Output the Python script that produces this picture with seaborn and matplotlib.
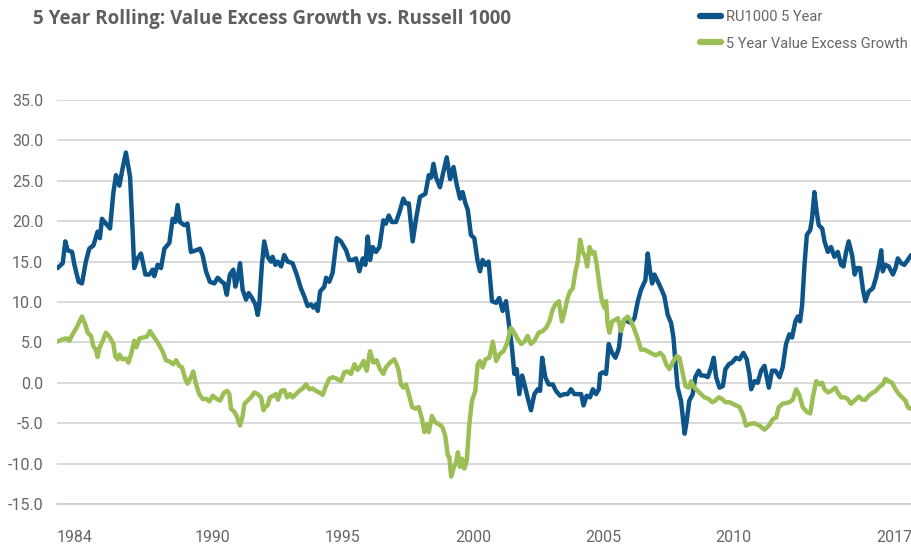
import matplotlib
matplotlib.use("Agg")
import matplotlib.pyplot as plt
import numpy as np
import pandas as pd
import seaborn as sns

# values (decimal year, rolling 5y return %)
ru_years = [1984.02, 1984.22, 1984.32, 1984.41, 1984.58, 1984.67, 1984.83, 1984.96, 1985.11, 1985.24,
            1985.40, 1985.56, 1985.65, 1985.73, 1985.88, 1986.04, 1986.17, 1986.27, 1986.40, 1986.52,
            1986.65, 1986.81, 1986.91, 1986.97, 1987.10, 1987.23, 1987.40, 1987.55, 1987.68, 1987.74,
            1987.87, 1988.00, 1988.13, 1988.32, 1988.45, 1988.55, 1988.64, 1988.73, 1988.90, 1989.02,
            1989.15, 1989.35, 1989.50, 1989.60, 1989.73, 1989.88, 1990.05, 1990.18, 1990.34, 1990.43,
            1990.53, 1990.65, 1990.78, 1990.86, 1990.95, 1991.04, 1991.14, 1991.27, 1991.37, 1991.50,
            1991.63, 1991.72, 1991.78, 1991.88, 1991.97, 1992.10, 1992.23, 1992.29, 1992.40, 1992.49,
            1992.62, 1992.74, 1992.87, 1993.06, 1993.22, 1993.38, 1993.51, 1993.64, 1993.77, 1993.86,
            1993.96, 1994.03, 1994.12, 1994.28, 1994.35, 1994.47, 1994.60, 1994.76, 1994.92, 1995.12,
            1995.24, 1995.37, 1995.50, 1995.63, 1995.76, 1995.86, 1995.95, 1996.04, 1996.14, 1996.27,
            1996.40, 1996.55, 1996.65, 1996.76, 1996.88, 1997.04, 1997.17, 1997.32, 1997.42, 1997.53,
            1997.68, 1997.81, 1997.96, 1998.17, 1998.30, 1998.39, 1998.48, 1998.58, 1998.73, 1998.86,
            1998.99, 1999.12, 1999.25, 1999.37, 1999.50, 1999.60, 1999.71, 1999.80, 1999.92, 2000.05,
            2000.18, 2000.27, 2000.37, 2000.48, 2000.60, 2000.73, 2000.89, 2001.01, 2001.14, 2001.27,
            2001.40, 2001.50, 2001.59, 2001.68, 2001.78, 2001.89, 2001.98, 2002.10, 2002.23, 2002.36,
            2002.49, 2002.58, 2002.66, 2002.78, 2002.91, 2003.07, 2003.19, 2003.35, 2003.51, 2003.64,
            2003.77, 2003.90, 2004.03, 2004.16, 2004.25, 2004.37, 2004.50, 2004.61, 2004.73, 2004.84,
            2004.89, 2004.99, 2005.12, 2005.22, 2005.35, 2005.48, 2005.61, 2005.70, 2005.82, 2005.95,
            2006.08, 2006.21, 2006.34, 2006.46, 2006.63, 2006.72, 2006.81, 2006.89, 2006.98, 2007.11,
            2007.23, 2007.36, 2007.49, 2007.62, 2007.71, 2007.79, 2007.87, 2008.00, 2008.09, 2008.14,
            2008.22, 2008.32, 2008.45, 2008.55, 2008.68, 2008.77, 2008.90, 2009.03, 2009.16, 2009.26,
            2009.35, 2009.48, 2009.61, 2009.71, 2009.84, 2009.96, 2010.12, 2010.25, 2010.40, 2010.53,
            2010.63, 2010.70, 2010.83, 2010.95, 2011.08, 2011.21, 2011.30, 2011.38, 2011.50, 2011.63,
            2011.79, 2011.91, 2012.04, 2012.17, 2012.27, 2012.40, 2012.49, 2012.58, 2012.66, 2012.75,
            2012.84, 2012.97, 2013.04, 2013.13, 2013.22, 2013.30, 2013.43, 2013.52, 2013.65, 2013.77,
            2013.90, 2014.03, 2014.16, 2014.25, 2014.35, 2014.45, 2014.58, 2014.68, 2014.76, 2014.89,
            2014.99, 2015.09, 2015.22, 2015.38, 2015.50, 2015.61, 2015.70, 2015.76, 2015.86, 2015.99,
            2016.15, 2016.25, 2016.34, 2016.47, 2016.59, 2016.72, 2016.85, 2016.92]
ru_values = [14.2, 14.8, 17.5, 16.4, 16.2, 14.6, 12.5, 12.3, 15.0, 16.6,
             17.0, 18.7, 17.9, 20.3, 19.7, 19.1, 23.6, 25.7, 24.4, 26.5,
             28.5, 25.5, 18.7, 14.2, 15.4, 16.0, 13.4, 13.4, 14.0, 13.2,
             14.6, 14.2, 16.6, 17.3, 20.3, 19.9, 22.0, 19.9, 19.5, 19.7,
             16.2, 16.4, 16.6, 15.8, 13.8, 12.5, 12.3, 13.0, 12.5, 12.3,
             10.9, 13.4, 14.0, 11.9, 13.0, 14.8, 11.5, 10.3, 11.1, 10.5,
             9.7, 8.4, 9.7, 14.6, 17.5, 15.6, 15.0, 15.6, 14.6, 15.0,
             14.4, 15.8, 15.0, 14.8, 13.4, 11.7, 10.7, 9.5, 9.7, 9.3,
             9.7, 8.9, 11.3, 11.9, 13.0, 12.5, 13.6, 17.9, 17.5, 16.4,
             15.2, 15.2, 15.4, 13.8, 15.4, 14.6, 18.1, 15.2, 16.8, 16.2,
             16.8, 20.1, 19.7, 20.7, 19.9, 19.9, 21.1, 22.8, 22.2, 22.2,
             17.5, 20.3, 23.0, 23.4, 25.7, 25.4, 27.1, 25.4, 24.2, 26.1,
             27.9, 25.2, 26.7, 24.6, 22.8, 23.6, 22.2, 21.4, 18.3, 17.9,
             15.0, 13.8, 15.2, 14.6, 15.0, 10.1, 9.9, 10.5, 8.9, 10.1,
             6.8, 4.3, 1.1, 1.7, -1.4, 0.9, -0.2, -1.8, -3.4, -1.4,
             -0.8, -1.0, 3.1, 0.7, -0.2, -0.2, -1.0, -1.6, -1.4, -1.4,
             -0.8, -1.4, -1.4, -1.4, -2.8, -1.6, -1.8, -0.8, -1.4, -0.8,
             1.1, 1.3, 1.1, 4.8, 3.7, 3.1, 4.3, 6.8, 7.8, 7.6,
             7.4, 8.0, 10.1, 11.5, 12.7, 16.0, 13.8, 12.3, 13.4, 12.5,
             11.7, 10.7, 8.4, 7.4, 5.6, 2.3, -0.6, -2.2, -4.9, -6.3,
             -4.7, -2.2, -1.4, 0.7, 1.5, 0.9, 0.9, 0.7, 1.9, 3.1,
             0.7, -0.6, -0.4, 1.7, 2.3, 2.5, 3.1, 2.9, 3.7, 2.9,
             1.1, -0.8, 0.2, 0.0, 1.5, 2.1, 0.7, -0.6, 1.5, 1.5,
             0.7, 1.9, 4.8, 6.0, 5.6, 7.6, 8.2, 7.6, 9.7, 14.6,
             18.3, 18.9, 20.3, 23.6, 21.1, 19.5, 19.1, 17.5, 16.2, 16.8,
             15.6, 16.2, 14.6, 14.4, 16.2, 17.5, 15.8, 13.4, 14.2, 14.2,
             11.7, 10.1, 11.3, 11.7, 13.0, 14.6, 16.4, 13.8, 14.6, 14.4,
             13.4, 14.2, 15.4, 14.8, 14.6, 15.2, 15.8, 15.8]

vg_years = [1984.02, 1984.22, 1984.37, 1984.47, 1984.60, 1984.75, 1984.96, 1985.09, 1985.18, 1985.31,
            1985.40, 1985.50, 1985.56, 1985.63, 1985.76, 1985.88, 1986.04, 1986.17, 1986.24, 1986.33,
            1986.40, 1986.52, 1986.65, 1986.75, 1986.88, 1986.97, 1987.06, 1987.17, 1987.32, 1987.45,
            1987.58, 1987.70, 1987.87, 1988.06, 1988.19, 1988.35, 1988.47, 1988.58, 1988.70, 1988.81,
            1988.93, 1989.02, 1989.15, 1989.24, 1989.35, 1989.47, 1989.60, 1989.75, 1989.86, 1989.99,
            1990.14, 1990.27, 1990.43, 1990.55, 1990.63, 1990.69, 1990.82, 1990.91, 1991.04, 1991.14,
            1991.21, 1991.33, 1991.46, 1991.59, 1991.72, 1991.85, 1991.94, 1992.01, 1992.10, 1992.19,
            1992.32, 1992.42, 1992.50, 1992.62, 1992.74, 1992.85, 1992.96, 1993.06, 1993.19, 1993.32,
            1993.45, 1993.58, 1993.71, 1993.83, 1993.96, 1994.09, 1994.22, 1994.32, 1994.47, 1994.60,
            1994.76, 1994.92, 1995.05, 1995.18, 1995.31, 1995.44, 1995.56, 1995.69, 1995.79, 1995.91,
            1996.04, 1996.17, 1996.29, 1996.42, 1996.55, 1996.65, 1996.81, 1996.97, 1997.06, 1997.14,
            1997.23, 1997.32, 1997.42, 1997.53, 1997.66, 1997.78, 1997.91, 1998.04, 1998.13, 1998.22,
            1998.30, 1998.42, 1998.55, 1998.68, 1998.83, 1998.94, 1999.03, 1999.09, 1999.16, 1999.25,
            1999.35, 1999.42, 1999.50, 1999.58, 1999.67, 1999.76, 1999.86, 1999.96, 2000.09, 2000.18,
            2000.27, 2000.37, 2000.48, 2000.63, 2000.76, 2000.89, 2001.04, 2001.17, 2001.30, 2001.46,
            2001.59, 2001.72, 2001.85, 2001.98, 2002.10, 2002.23, 2002.36, 2002.53, 2002.68, 2002.81,
            2002.94, 2003.07, 2003.17, 2003.30, 2003.42, 2003.51, 2003.64, 2003.73, 2003.84, 2003.94,
            2004.03, 2004.12, 2004.22, 2004.32, 2004.39, 2004.48, 2004.58, 2004.67, 2004.76, 2004.86,
            2004.96, 2005.05, 2005.12, 2005.18, 2005.25, 2005.35, 2005.48, 2005.57, 2005.70, 2005.82,
            2005.95, 2006.08, 2006.21, 2006.34, 2006.46, 2006.59, 2006.72, 2006.89, 2007.04, 2007.19,
            2007.32, 2007.43, 2007.55, 2007.71, 2007.84, 2007.94, 2008.07, 2008.17, 2008.30, 2008.39,
            2008.52, 2008.64, 2008.77, 2008.90, 2009.07, 2009.20, 2009.32, 2009.45, 2009.58, 2009.71,
            2009.86, 2009.99, 2010.12, 2010.25, 2010.38, 2010.50, 2010.63, 2010.83, 2011.02, 2011.21,
            2011.38, 2011.53, 2011.66, 2011.76, 2011.91, 2012.04, 2012.17, 2012.30, 2012.43, 2012.56,
            2012.68, 2012.84, 2012.97, 2013.07, 2013.20, 2013.33, 2013.43, 2013.52, 2013.65, 2013.77,
            2013.94, 2014.03, 2014.16, 2014.29, 2014.41, 2014.54, 2014.67, 2014.84, 2014.97, 2015.09,
            2015.22, 2015.38, 2015.50, 2015.63, 2015.76, 2015.86, 2015.99, 2016.12, 2016.25, 2016.38,
            2016.50, 2016.63, 2016.72, 2016.81, 2016.92]
vg_values = [5.1, 5.4, 5.5, 5.2, 6.0, 6.8, 8.2, 7.2, 6.2, 5.8,
             4.5, 4.1, 3.2, 4.3, 5.2, 6.2, 5.6, 4.8, 3.3, 2.9,
             3.5, 2.9, 3.0, 2.5, 3.9, 5.2, 4.4, 5.5, 5.6, 5.7,
             6.4, 5.8, 5.0, 3.9, 2.8, 2.6, 2.3, 2.8, 2.1, 1.9,
             0.5, -0.1, 0.7, 1.4, -0.2, -1.4, -2.0, -2.0, -2.3, -1.6,
             -2.0, -2.2, -1.2, -1.0, -1.4, -3.2, -3.6, -4.1, -5.3, -4.1,
             -2.6, -2.2, -1.8, -1.2, -1.4, -1.8, -3.4, -3.0, -2.8, -1.8,
             -1.6, -1.4, -2.1, -1.0, -0.9, -1.8, -1.4, -1.8, -1.4, -1.0,
             -0.7, -0.2, -0.8, -0.7, -1.0, -1.2, -1.5, -0.6, 0.5, 0.7,
             0.5, 0.2, 1.3, 1.4, 1.1, 2.3, 1.6, 2.1, 2.7, 1.5,
             3.9, 2.5, 2.8, 1.7, 1.1, 1.9, 2.5, 2.9, 2.3, 1.5,
             -0.2, -0.6, -0.2, -1.4, -3.0, -3.2, -3.0, -4.5, -6.1, -5.1,
             -6.1, -4.1, -4.9, -5.1, -5.5, -6.7, -9.0, -9.2, -11.6, -10.6,
             -9.8, -8.6, -10.4, -9.4, -10.6, -9.6, -5.1, -2.2, -1.0, 2.3,
             2.7, 1.9, 2.9, 3.1, 5.1, 2.7, 3.6, 3.9, 4.8, 6.8,
             6.2, 5.4, 4.8, 5.1, 5.8, 4.8, 5.2, 6.2, 6.4, 6.8,
             7.6, 9.1, 9.7, 10.1, 7.6, 8.6, 10.5, 11.3, 11.7, 13.8,
             15.0, 17.7, 16.2, 15.6, 14.4, 16.8, 16.0, 16.2, 14.6, 12.1,
             10.1, 9.3, 10.1, 7.2, 6.2, 7.6, 7.8, 8.0, 6.4, 7.8,
             8.2, 7.6, 6.6, 5.4, 4.1, 4.1, 3.9, 3.6, 3.4, 3.7,
             3.3, 2.3, 1.7, 2.7, 3.3, 3.1, 1.1, -0.4, -0.6, 0.2,
             -0.6, -1.0, -1.4, -1.8, -2.0, -2.4, -2.2, -1.8, -2.0, -2.4,
             -2.4, -2.6, -2.8, -3.0, -3.9, -5.3, -5.1, -5.0, -5.3, -5.8,
             -5.3, -4.5, -4.3, -3.0, -2.6, -2.5, -2.4, -2.1, -0.8, -1.6,
             -3.0, -3.6, -3.8, -1.8, 0.2, -0.2, 0.0, -0.8, -1.2, -1.0,
             -0.6, -1.2, -1.8, -1.8, -2.0, -2.6, -2.2, -1.7, -2.1, -2.1,
             -1.6, -1.2, -1.0, -0.5, -0.2, 0.5, 0.2, 0.0, -0.8, -1.4,
             -1.8, -2.2, -3.0, -3.2, -3.0]

series_names = ["RU1000 5 Year", "5 Year Value Excess Growth"]
y_ticks = [-15, -10, -5, 0, 5, 10, 15, 20, 25, 30, 35]
x_tick_years = [1984, 1990, 1995, 2000, 2005, 2010]
x_end_label = "2017"

blue = "#0d5589"
green = "#9bbf55"
grey_text = "#666666"

sns.set_style("white")
plt.rcParams["font.family"] = ["Roboto", "DejaVu Sans"]

ru = pd.DataFrame({"year": ru_years, "value": ru_values, "series": series_names[0]})
vg = pd.DataFrame({"year": vg_years, "value": vg_values, "series": series_names[1]})
df = pd.concat([ru, vg], ignore_index=True)

fig = plt.figure(figsize=(9.12, 5.48), dpi=100)
ax = fig.add_axes([57 / 912, 44 / 548, 855 / 912, 404 / 548])

sns.lineplot(data=df, x="year", y="value", hue="series", hue_order=series_names,
             palette=[blue, green], linewidth=3.2, ax=ax, legend=False)

x_start = 1984.0
x_end = 1984.0 + 855 / 26
ax.set_xlim(x_start, x_end)
ax.set_ylim(-15, 35)

ax.set_yticks(y_ticks)
ax.set_yticklabels([f"{v:.1f}" for v in y_ticks])
ax.yaxis.grid(True, color="#cfcfcf", linewidth=1.1)
ax.set_axisbelow(True)

ticks = x_tick_years + [x_end]
ax.set_xticks(ticks)
ax.set_xticklabels([str(y) for y in x_tick_years] + [x_end_label])
labels = ax.get_xticklabels()
labels[0].set_ha("left")
labels[-1].set_ha("right")

ax.tick_params(axis="y", length=0, pad=10, labelsize=11.5, labelcolor=grey_text)
ax.tick_params(axis="x", length=6, width=1, color="#c8c8c8", pad=13, labelsize=11.5, labelcolor=grey_text)

for s in ["top", "right", "left"]:
    ax.spines[s].set_visible(False)
ax.spines["bottom"].set_color("#c8c8c8")
ax.spines["bottom"].set_linewidth(1.1)

ax.set_xlabel("")
ax.set_ylabel("")

fig.text(33 / 912, 1 - 19 / 548, "5 Year Rolling: Value Excess Growth vs. Russell 1000",
         fontsize=13.5, fontweight="bold", color="#5f5f5f", va="center", ha="left",
         family=["Open Sans", "DejaVu Sans"])

handles = [plt.Line2D([], [], color=blue, linewidth=4.5),
           plt.Line2D([], [], color=green, linewidth=4.5)]
fig.legend(handles, series_names, loc="upper left", bbox_to_anchor=(687 / 912, 1 + 3 / 548),
           frameon=False, fontsize=10.5, labelcolor=grey_text, handlelength=1.4,
           handletextpad=0.4, labelspacing=0.85, borderpad=0.4)

fig.savefig("out.png", dpi=100)
